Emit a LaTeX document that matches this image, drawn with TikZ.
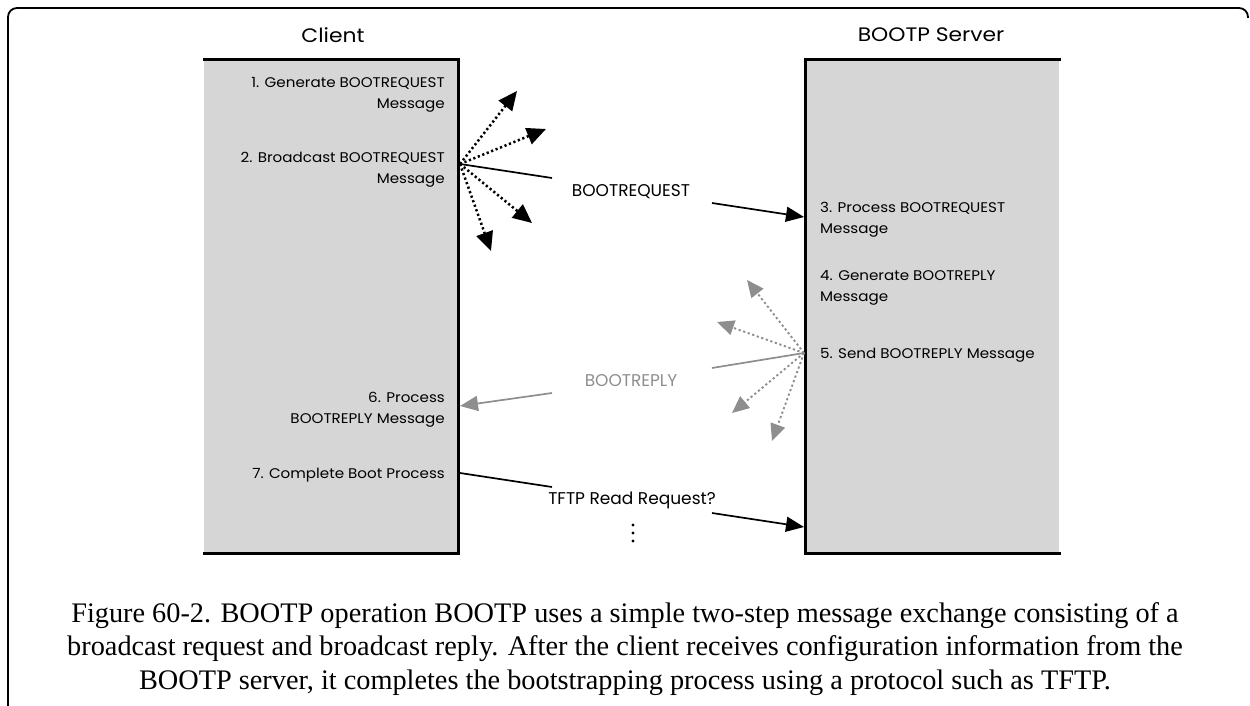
\documentclass[tikz,border=0pt]{standalone}
\usepackage{fontspec}
\setmainfont{Liberation Serif}
\newfontfamily\diag[FakeStretch=1.08]{Poppins}
\newfontfamily\diagttl[FakeStretch=1.12]{Poppins}
\newfontfamily\diagmsg{Poppins}
\usetikzlibrary{arrows.meta}
\definecolor{boxgray}{HTML}{D6D6D6}
\definecolor{replygray}{HTML}{8E8E8E}
\begin{document}
\begin{tikzpicture}[x=1pt,y=-1pt,
  lbl/.style={font=\diag\fontsize{14}{21}\selectfont, inner sep=0pt},
  msglbl/.style={font=\diagmsg\fontsize{17}{19}\selectfont, inner sep=0pt},
  ttl/.style={font=\diagttl\fontsize{19.5}{24}\selectfont, inner sep=0pt},
  boxfill/.style={fill=boxgray, draw=none, inner sep=0pt},
  edge/.style={line width=3pt, line cap=rect, line join=miter},
  msg/.style={line width=1.7pt},
  arr/.style={msg, -{Triangle[length=18pt,width=15pt]}},
  bcast/.style={line width=2.5pt, dash pattern=on 2.2pt off 2.6pt, -{Triangle[length=19pt,width=17pt]}},
  capt/.style={font=\fontsize{28.3}{33.5}\selectfont, inner sep=0pt, align=center}]
\useasboundingbox (0,0) rectangle (1250,706);
% outer frame
\draw[line width=1.8pt, rounded corners=9pt] (8,720) -- (8,8) -- (1248,8) -- (1248,18);
% boxes
\node[boxfill, minimum width=254pt, minimum height=493pt, anchor=north west] (client) at (204,60) {};
\node[boxfill, minimum width=254pt, minimum height=493pt, anchor=north west] (server) at (805,60) {};
\draw[edge] (client.north west) -- (client.north east) -- (client.south east) -- (client.south west);
\draw[edge] (server.north east) -- (server.north west) -- (server.south west) -- (server.south east);
% titles
\node[ttl] (tclient) at (333,35) {Client};
\node[ttl] (tserver) at (931,35) {BOOTP Server};
% client steps
\node[lbl, align=right, anchor=north east] (s1) at (445,77) {1. Generate BOOTREQUEST\\Message};
\node[lbl, align=right, anchor=north east] (s2) at (445,152) {2. Broadcast BOOTREQUEST\\Message};
\node[lbl, align=right, anchor=north east] (s6) at (445,392) {6. Process\\BOOTREPLY Message};
\node[lbl, align=right, anchor=north east] (s7) at (445,468) {7. Complete Boot Process};
% server steps
\node[lbl, align=left, anchor=north west] (s3) at (820,202) {3. Process BOOTREQUEST\\Message};
\node[lbl, align=left, anchor=north west] (s4) at (820,270) {4. Generate BOOTREPLY\\Message};
\node[lbl, align=left, anchor=north west] (s5) at (820,348) {5. Send BOOTREPLY Message};
% BOOTREQUEST
\coordinate (rqO) at (460,164);
\coordinate (rqB) at (552,178);
\node[msglbl] (rq) at (631,192) {BOOTREQUEST};
\coordinate (rqC) at (712,203);
\coordinate (rqD) at (804,217);
\draw[msg] (rqO) -- (rqB);
\draw[arr] (rqC) -- (rqD);
\coordinate (rqT1) at (517,91);
\coordinate (rqT2) at (546,129);
\coordinate (rqT3) at (532,223);
\coordinate (rqT4) at (491,251);
\foreach \t in {rqT1,rqT2,rqT3,rqT4} \draw[bcast] (rqO) -- (\t);
% BOOTREPLY
\coordinate (rpO) at (804,353);
\coordinate (rpB) at (712,368);
\node[msglbl, text=replygray] (rp) at (631,381) {BOOTREPLY};
\coordinate (rpC) at (552,393);
\coordinate (rpD) at (460,406);
\draw[msg, replygray] (rpO) -- (rpB);
\draw[arr, replygray] (rpC) -- (rpD);
\coordinate (rpT1) at (747,280);
\coordinate (rpT2) at (717,322);
\coordinate (rpT3) at (732,413);
\coordinate (rpT4) at (772,441);
\foreach \t in {rpT1,rpT2,rpT3,rpT4} \draw[bcast, replygray, line width=1.9pt, -{Triangle[length=17pt,width=15pt]}] (rpO) -- (\t);
% TFTP
\coordinate (tfO) at (460,473);
\coordinate (tfB) at (552,487);
\node[msglbl] (tf) at (632,500) {TFTP Read Request?};
\coordinate (tfC) at (712,513);
\coordinate (tfD) at (804,527);
\draw[msg] (tfO) -- (tfB);
\draw[arr] (tfC) -- (tfD);
\foreach \y in {525,533,541} \fill (633,\y) circle[radius=1.6];
% caption
\node[capt] (cap) at (625,649) {Figure 60-2. BOOTP operation BOOTP uses a simple two-step message exchange consisting of a\\broadcast request and broadcast reply. After the client receives configuration information from the\\BOOTP server, it completes the bootstrapping process using a protocol such as TFTP.};
\end{tikzpicture}
\end{document}
